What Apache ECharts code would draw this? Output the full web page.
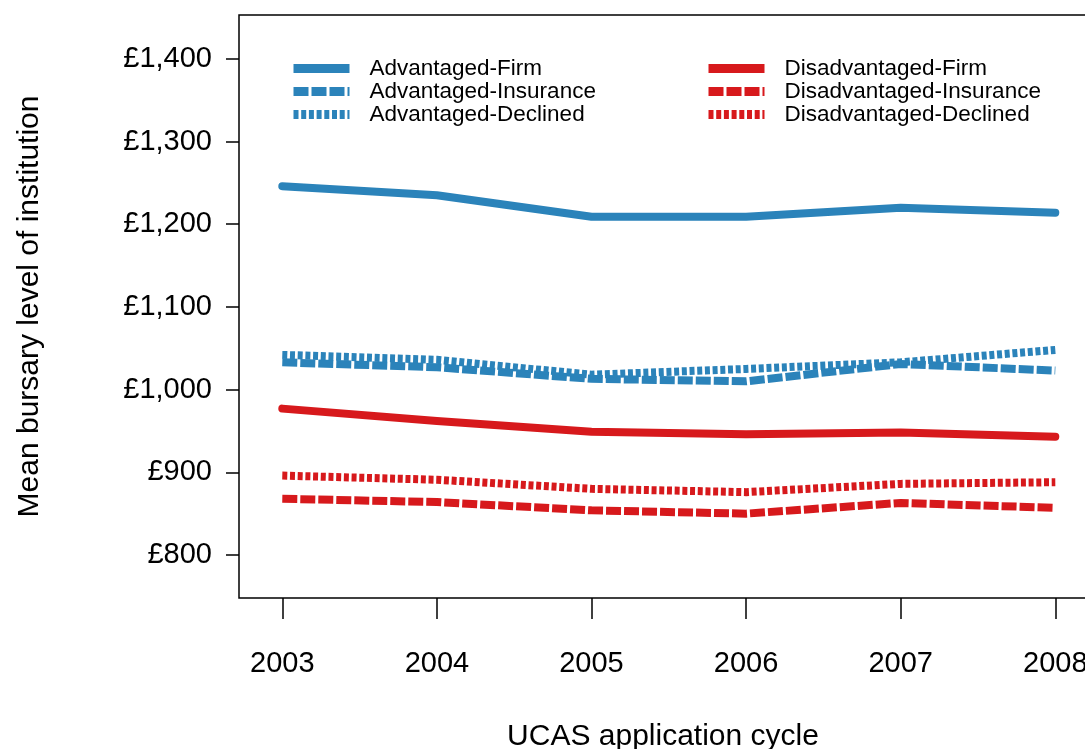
<!DOCTYPE html>
<html>
<head>
<meta charset="utf-8">
<script src="https://cdn.jsdelivr.net/npm/echarts@6/dist/echarts.min.js"></script>
<style>html,body{margin:0;padding:0;background:#fff;}#c{width:1085px;height:749px;}</style>
</head>
<body>
<div id="c"></div>
<script>
const years = [2003, 2004, 2005, 2006, 2007, 2008];
const yTicks = [800, 900, 1000, 1100, 1200, 1300, 1400];
const advFirm = [1246, 1235, 1209, 1209, 1220, 1214];
const advInsurance = [1033, 1027, 1013, 1010, 1031, 1023];
const advDeclined = [1042, 1036, 1018, 1025, 1033, 1048];
const disFirm = [977, 962, 949, 946, 948, 943];
const disInsurance = [868, 864, 854, 850, 863, 857];
const disDeclined = [896, 891, 880, 876, 886, 888];

const BLUE = '#2b83ba', RED = '#d7191c';
const FONT = 'Liberation Sans, Arial, Helvetica, sans-serif';

function mk(name, vals, color, type) {
  return {
    name: name, type: 'line', symbol: 'none', silent: true,
    data: years.map((y, i) => [y, vals[i]]),
    lineStyle: { color: color, width: 8, type: type, cap: type === 'solid' ? 'round' : 'butt', join: 'round' },
    itemStyle: { color: color }
  };
}
const DASH = [15, 3], DOT = [5, 2.7];

const legendCommon = {
  orient: 'vertical', padding: 0, itemWidth: 56, itemHeight: 14, itemGap: -6,
  selectedMode: false,
  itemStyle: { opacity: 0 },
  lineStyle: { width: 9, cap: 'butt' },
  textStyle: { fontFamily: FONT, fontSize: 22.5, color: '#000', lineHeight: 23, padding: [6, 0, 0, 15] }
};

const chart = echarts.init(document.getElementById('c'), null, { renderer: 'canvas' });
chart.setOption({
  animation: false,
  backgroundColor: '#fff',
  grid: { left: 239, right: -2, top: 15, bottom: 151, show: true, borderColor: '#000', borderWidth: 1.5,
    backgroundColor: 'transparent', containLabel: false, outerBoundsMode: 'none' },
  legend: [
    Object.assign({}, legendCommon, { left: 289, top: 54, data: ['Advantaged-Firm', 'Advantaged-Insurance', 'Advantaged-Declined'] }),
    Object.assign({}, legendCommon, { left: 704, top: 54, data: ['Disadvantaged-Firm', 'Disadvantaged-Insurance', 'Disadvantaged-Declined'] })
  ],
  xAxis: {
    type: 'value', min: 2002.72, max: 2008.205,
    name: 'UCAS application cycle', nameLocation: 'middle', nameGap: 124,
    nameTextStyle: { fontFamily: FONT, fontSize: 30, color: '#000' },
    axisLine: { show: false },
    splitLine: { show: false },
    axisTick: { show: true, inside: false, length: 21, customValues: years, lineStyle: { color: '#000', width: 1.5 } },
    axisLabel: { customValues: years, margin: 51, fontFamily: FONT, fontSize: 29, color: '#000', formatter: v => String(v) }
  },
  yAxis: {
    type: 'value', min: 748, max: 1453,
    name: 'Mean bursary level of institution', nameLocation: 'middle', nameGap: 194,
    nameTextStyle: { fontFamily: FONT, fontSize: 30, color: '#000' },
    axisLine: { show: false },
    splitLine: { show: false },
    axisTick: { show: true, inside: false, length: 13, customValues: yTicks, lineStyle: { color: '#000', width: 1.5 } },
    axisLabel: { customValues: yTicks, margin: 27, fontFamily: FONT, fontSize: 29, color: '#000',
      formatter: v => '£' + Number(v).toLocaleString('en-GB') }
  },
  series: [
    mk('Advantaged-Firm', advFirm, BLUE, 'solid'),
    mk('Advantaged-Insurance', advInsurance, BLUE, DASH),
    mk('Advantaged-Declined', advDeclined, BLUE, DOT),
    mk('Disadvantaged-Firm', disFirm, RED, 'solid'),
    mk('Disadvantaged-Insurance', disInsurance, RED, DASH),
    mk('Disadvantaged-Declined', disDeclined, RED, DOT)
  ]
});
</script>
</body>
</html>
